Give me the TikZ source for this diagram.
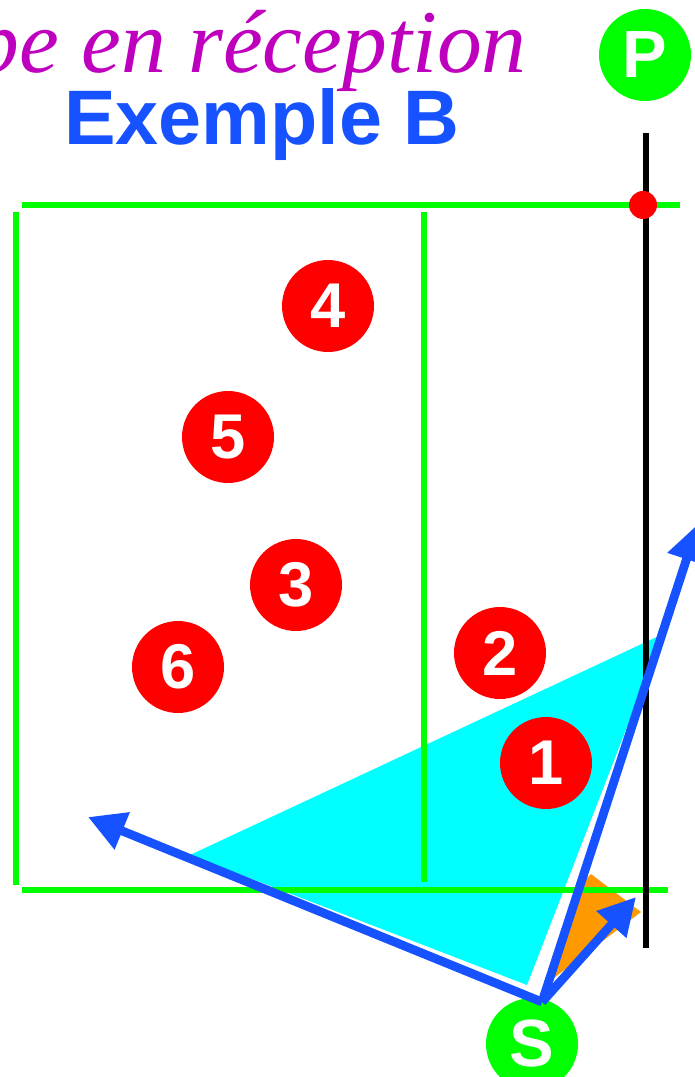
\documentclass[tikz,border=0pt]{standalone}
\usepackage{fontspec}
\setmainfont{Liberation Serif}
\setsansfont{Liberation Sans}
\usetikzlibrary{arrows.meta, positioning}
\definecolor{vert}{RGB}{0,255,0}
\definecolor{rouge}{RGB}{255,0,0}
\definecolor{bleu}{RGB}{22,82,255}
\definecolor{cyanclair}{RGB}{0,255,255}
\definecolor{orange}{RGB}{255,153,0}
\definecolor{magenta}{RGB}{190,0,190}

\begin{document}
\begin{tikzpicture}[
    x=0.02cm, y=-0.02cm,
    joueur/.style={circle, fill=rouge, minimum size=1.84cm, inner sep=0pt, text=white, font=\sffamily\bfseries\fontsize{36}{36}\selectfont},
    poste/.style={circle, fill=vert, minimum size=1.84cm, inner sep=0pt, text=white, font=\sffamily\bfseries\fontsize{38}{38}\selectfont},
    terrain/.style={draw=vert, line width=3.3pt},
    fleche/.style={-{Triangle[length=0.74cm, width=0.76cm]}, draw=bleu, line width=5pt}
]
    \useasboundingbox (0,0) rectangle (695,1077);

    % titre
    \node[anchor=base east, text=magenta, font=\itshape\fontsize{51}{51}\selectfont, inner sep=0pt] (titre) at (527,73) {pe en réception};
    \node[text=bleu, font=\sffamily\bfseries\fontsize{44}{44}\selectfont, inner sep=0pt] (exemple) at (262,125) {Exemple B};

    % zones
    \fill[cyanclair] (190,855) -- (663,634) -- (527,985) -- cycle;
    \fill[orange] (591,874) -- (641,912) -- (543,986) -- (575,890) -- cycle;

    % terrain
    \draw[terrain] (22,205) -- (680,205);
    \draw[terrain] (22,890) -- (668,890);
    \draw[terrain] (16,212) -- (16,885);
    \draw[terrain] (424,212) -- (424,882);
    \draw[line width=3pt] (646,133) -- (646,948);
    \fill[rouge] (643,205) circle (14);

    % joueurs
    \node[joueur] (j4) at (328,306) {4};
    \node[joueur] (j5) at (228,437) {5};
    \node[joueur] (j3) at (296,585) {3};
    \node[joueur] (j6) at (178,667) {6};
    \node[joueur] (j2) at (500,653) {2};
    \node[joueur] (j1) at (546,763) {1};

    \node[poste] (P) at (645,55) {P};
    \node[poste] (S) at (532,1044) {S};

    % trajectoires
    \coordinate (depart) at (542,1002);
    \coordinate (gauche) at (88,817);
    \coordinate (haut) at (698,524);
    \coordinate (court) at (636,897);
    \draw[fleche] (depart) -- (gauche);
    \draw[fleche] (depart) -- (haut);
    \draw[fleche] (depart) -- (court);
\end{tikzpicture}
\end{document}
